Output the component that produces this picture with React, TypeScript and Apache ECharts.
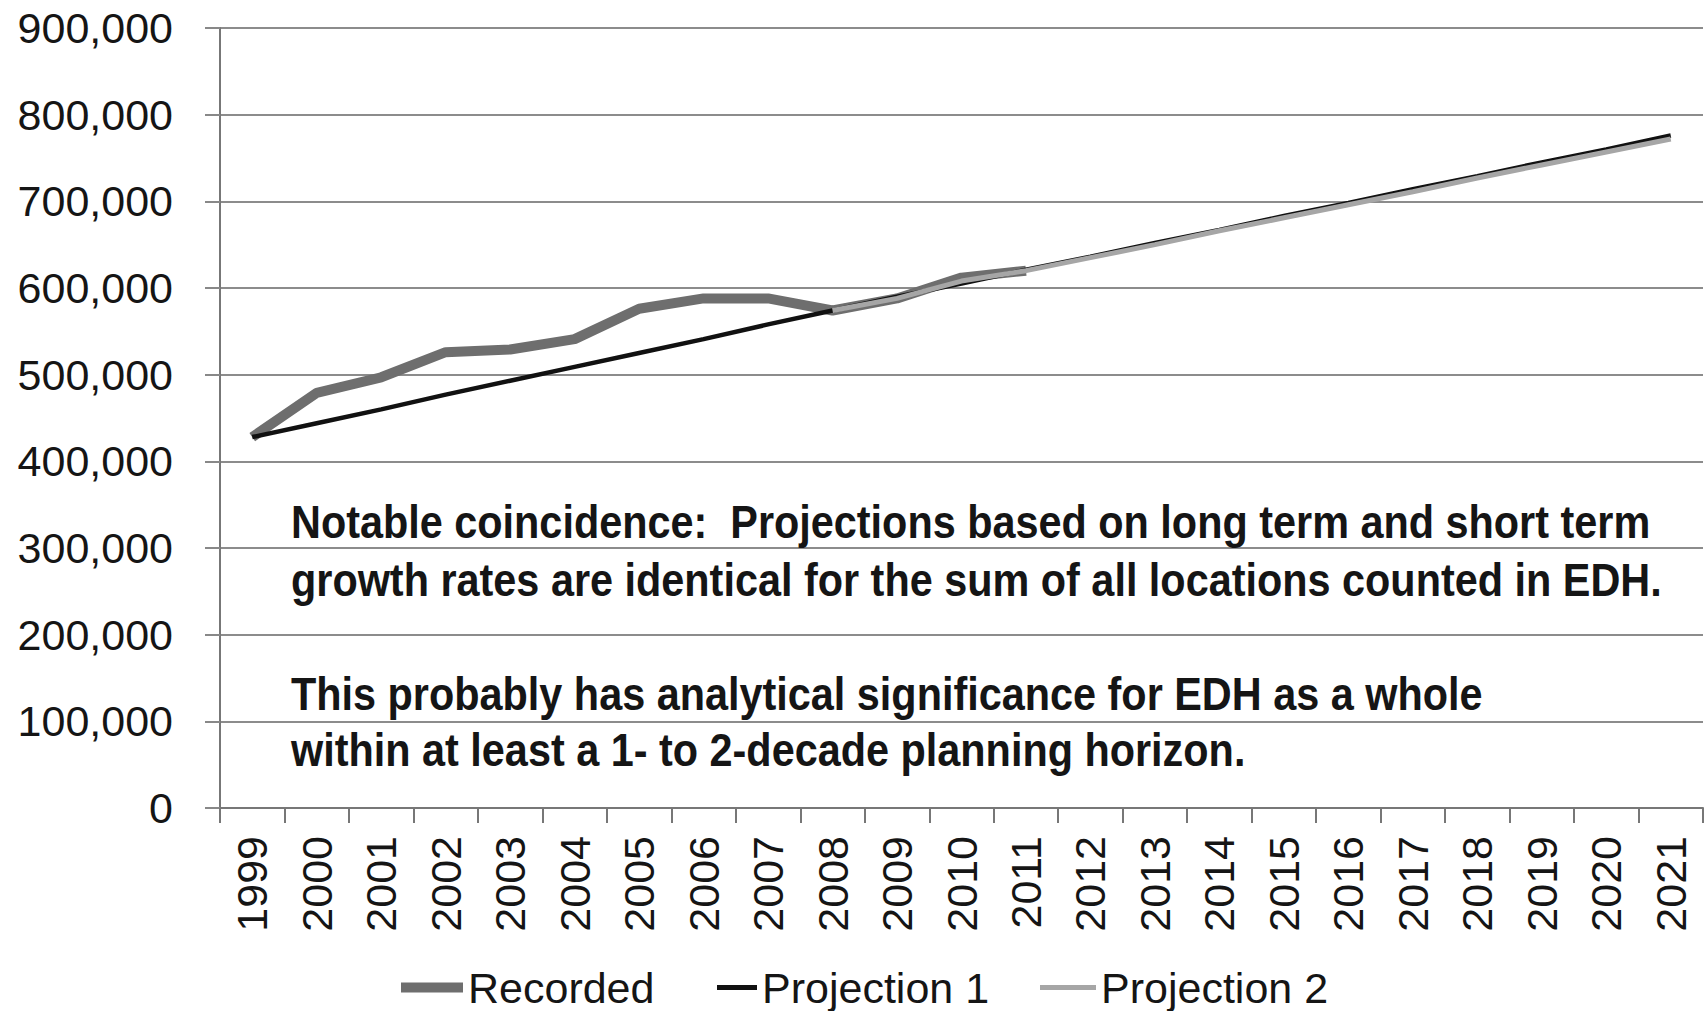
import React, { useEffect, useRef } from "react";
import * as echarts from "echarts";

const years = [
  "1999", "2000", "2001", "2002", "2003", "2004", "2005", "2006", "2007", "2008", "2009",
  "2010", "2011", "2012", "2013", "2014", "2015", "2016", "2017", "2018", "2019", "2020", "2021",
];

const recorded = [
  428000, 479000, 497000, 526000, 529000, 541000, 576000, 588000, 588000, 574000, 588000,
  612000, 620000, null, null, null, null, null, null, null, null, null, null,
];

const projection1 = [
  428000, 444000, 460000, 477000, 493000, 509000, 525000, 541000, 558000, 574000, 590000,
  605000, 621000, 636000, 652000, 667000, 683000, 698000, 714000, 729000, 745000, 760000, 776000,
];

const projection2 = [
  null, null, null, null, null, null, null, null, null, 574000, 588000,
  608000, 620000, 635000, 650000, 666000, 681000, 696000, 711000, 727000, 742000, 757000, 772000,
];

const yTicks = { min: 0, max: 900000, interval: 100000 };

const noteLines = [
  "Notable coincidence:  Projections based on long term and short term",
  "growth rates are identical for the sum of all locations counted in EDH.",
  "This probably has analytical significance for EDH as a whole",
  "within at least a 1- to 2-decade planning horizon.",
];
const noteY = [522, 580, 694, 750];

export default function App() {
  const ref = useRef<HTMLDivElement>(null);

  useEffect(() => {
    if (!ref.current) return;
    const chart = echarts.init(ref.current, undefined, { renderer: "svg" });
    const font = "'Liberation Sans', Arial, sans-serif";
    const legendText = { fontSize: 43, color: "#151515", fontFamily: font };
    const thick = "path://M0,0M60,12M0,1H60V11H0Z";
    const thin = "path://M0,0M60,12M0,3.5H60V8.5H0Z";
    const legendBase = {
      top: 961,
      itemHeight: 12,
      symbolKeepAspect: false,
      textStyle: legendText,
    };
    chart.setOption({
      animation: false,
      backgroundColor: "#ffffff",
      textStyle: { fontFamily: font },
      grid: { left: 220, right: 2, top: 28, bottom: 203, containLabel: false },
      legend: [
        {
          ...legendBase,
          left: 396,
          itemWidth: 62,
          data: [{ name: "Recorded", icon: thick, itemStyle: { color: "#6e6e6e" } }],
        },
        {
          ...legendBase,
          left: 712,
          itemWidth: 40,
          data: [{ name: "Projection 1", icon: thin, itemStyle: { color: "#111111" } }],
        },
        {
          ...legendBase,
          left: 1035,
          itemWidth: 56,
          data: [{ name: "Projection 2", icon: thin, itemStyle: { color: "#a6a6a6" } }],
        },
      ],
      xAxis: {
        type: "category",
        data: years,
        boundaryGap: true,
        axisLine: { show: true, lineStyle: { color: "#777777", width: 2 } },
        axisTick: { show: true, interval: 0, length: 15, lineStyle: { color: "#777777", width: 2 } },
        axisLabel: {
          interval: 0,
          rotate: 90,
          margin: 28,
          fontSize: 43,
          color: "#151515",
          fontFamily: font,
        },
        splitLine: { show: false },
      },
      yAxis: {
        type: "value",
        min: yTicks.min,
        max: yTicks.max,
        interval: yTicks.interval,
        axisLine: { show: true, lineStyle: { color: "#777777", width: 2 } },
        axisTick: { show: true, length: 15, lineStyle: { color: "#888888", width: 2 } },
        axisLabel: {
          margin: 47,
          fontSize: 43,
          color: "#151515",
          fontFamily: font,
          formatter: (v: number) => v.toLocaleString("en-US"),
        },
        splitLine: { show: true, lineStyle: { color: "#8c8c8c", width: 2 } },
      },
      series: [
        {
          name: "Recorded",
          type: "line",
          data: recorded,
          symbol: "none",
          lineStyle: { color: "#6e6e6e", width: 10 },
          itemStyle: { color: "#6e6e6e" },
        },
        {
          name: "Projection 1",
          type: "line",
          data: projection1,
          symbol: "none",
          lineStyle: { color: "#111111", width: 4.5 },
          itemStyle: { color: "#111111" },
        },
        {
          name: "Projection 2",
          type: "line",
          data: projection2,
          symbol: "none",
          lineStyle: { color: "#a6a6a6", width: 5 },
          itemStyle: { color: "#a6a6a6" },
        },
      ],
      graphic: noteLines.map((t, i) => ({
        type: "text",
        x: 291,
        y: noteY[i],
        scaleX: 0.9,
        scaleY: 1,
        z: 10,
        style: {
          text: t,
          x: 0,
          y: 0,
          font: `bold 46px ${font}`,
          fill: "#151515",
          align: "left",
          verticalAlign: "middle",
        },
      })),
    });
    return () => chart.dispose();
  }, []);

  return (
    <div
      ref={ref}
      style={{ position: "absolute", left: 0, top: 0, width: 1705, height: 1011, background: "#fff" }}
    />
  );
}
